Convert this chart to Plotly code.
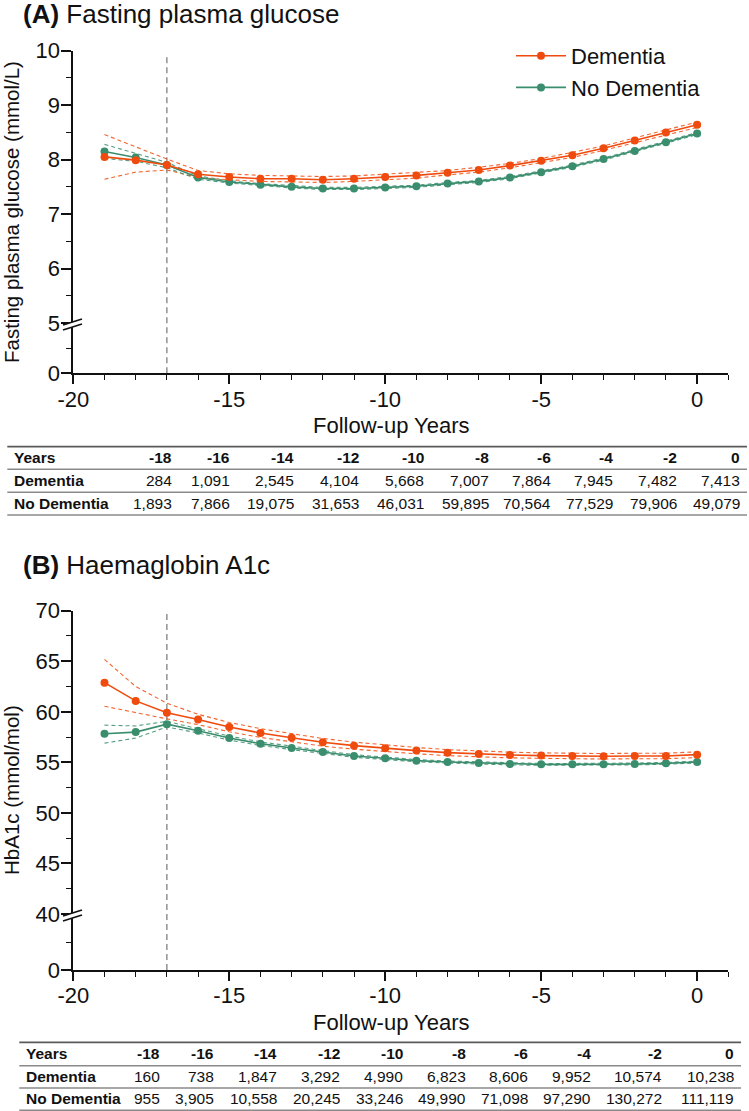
import plotly.graph_objects as go

# ---------------- data ----------------
years = [-19, -18, -17, -16, -15, -14, -13, -12, -11, -10, -9, -8, -7, -6, -5, -4, -3, -2, -1, 0]

# Panel A: fasting plasma glucose (mmol/L)
fpg_dem = [8.05, 7.99, 7.90, 7.73, 7.68, 7.65, 7.65, 7.63, 7.65, 7.68, 7.71, 7.76, 7.81, 7.89, 7.98, 8.08, 8.21, 8.35, 8.50, 8.64]
fpg_dem_hi = [8.46, 8.23, 8.01, 7.80, 7.74, 7.71, 7.70, 7.69, 7.70, 7.73, 7.76, 7.80, 7.86, 7.93, 8.02, 8.13, 8.25, 8.40, 8.55, 8.69]
fpg_dem_lo = [7.64, 7.77, 7.81, 7.67, 7.63, 7.60, 7.59, 7.58, 7.60, 7.63, 7.66, 7.72, 7.77, 7.85, 7.94, 8.04, 8.17, 8.31, 8.45, 8.59]
fpg_nod = [8.15, 8.04, 7.90, 7.67, 7.59, 7.54, 7.50, 7.47, 7.47, 7.49, 7.51, 7.56, 7.60, 7.67, 7.77, 7.88, 8.01, 8.16, 8.32, 8.48]
fpg_nod_hi = [8.28, 8.12, 7.95, 7.70, 7.61, 7.56, 7.52, 7.49, 7.49, 7.51, 7.53, 7.58, 7.62, 7.69, 7.79, 7.90, 8.03, 8.18, 8.34, 8.50]
fpg_nod_lo = [8.02, 7.97, 7.85, 7.64, 7.57, 7.52, 7.48, 7.45, 7.45, 7.47, 7.49, 7.54, 7.58, 7.65, 7.75, 7.86, 7.99, 8.14, 8.30, 8.46]

# Panel B: HbA1c (mmol/mol)
hba_dem = [62.88, 61.08, 59.90, 59.24, 58.49, 57.90, 57.44, 56.98, 56.65, 56.39, 56.16, 55.96, 55.83, 55.73, 55.67, 55.63, 55.60, 55.63, 55.63, 55.76]
hba_dem_hi = [65.18, 62.50, 60.85, 59.75, 58.95, 58.33, 57.84, 57.36, 57.00, 56.72, 56.47, 56.26, 56.12, 56.01, 55.94, 55.90, 55.87, 55.90, 55.90, 56.04]
hba_dem_lo = [60.55, 59.90, 59.30, 58.73, 58.03, 57.47, 57.04, 56.60, 56.30, 56.06, 55.85, 55.66, 55.54, 55.45, 55.40, 55.36, 55.33, 55.36, 55.36, 55.48]
hba_nod = [57.83, 57.99, 58.78, 58.13, 57.40, 56.85, 56.42, 56.03, 55.63, 55.40, 55.17, 55.03, 54.93, 54.84, 54.80, 54.80, 54.80, 54.84, 54.90, 55.03]
hba_nod_hi = [58.68, 58.60, 59.05, 58.35, 57.60, 57.03, 56.58, 56.17, 55.76, 55.52, 55.28, 55.13, 55.03, 54.93, 54.89, 54.89, 54.89, 54.93, 54.99, 55.12]
hba_nod_lo = [56.90, 57.40, 58.50, 57.91, 57.20, 56.67, 56.26, 55.89, 55.50, 55.28, 55.06, 54.93, 54.83, 54.75, 54.71, 54.71, 54.71, 54.75, 54.81, 54.94]

# Tables (numbers at risk)
table_years = ["-18", "-16", "-14", "-12", "-10", "-8", "-6", "-4", "-2", "0"]
fpg_n_dem = ["284", "1,091", "2,545", "4,104", "5,668", "7,007", "7,864", "7,945", "7,482", "7,413"]
fpg_n_nod = ["1,893", "7,866", "19,075", "31,653", "46,031", "59,895", "70,564", "77,529", "79,906", "49,079"]
hba_n_dem = ["160", "738", "1,847", "3,292", "4,990", "6,823", "8,606", "9,952", "10,574", "10,238"]
hba_n_nod = ["955", "3,905", "10,558", "20,245", "33,246", "49,990", "71,098", "97,290", "130,272", "111,119"]
row_labels = ["Years", "Dementia", "No Dementia"]

# ---------------- styling ----------------
W, H = 749, 1111
ORANGE = "#F04B0E"
GREEN = "#3A8E6E"
FONT = "Liberation Sans, Arial, Helvetica, sans-serif"
INK = "#111111"


def py(p):
    return 1 - p / H


def px(p):
    return p / W


fig = go.Figure()


def add_panel(xa, ya, ya_stub, dem, dem_hi, dem_lo, nod, nod_hi, nod_lo):
    for series, col in ((dem_hi, ORANGE), (dem_lo, ORANGE), (nod_hi, GREEN), (nod_lo, GREEN)):
        fig.add_trace(go.Scatter(x=years, y=series, mode="lines", xaxis=xa, yaxis=ya,
                                 line=dict(color=col, width=1.1, dash="4px,3px"),
                                 opacity=0.85, showlegend=False, hoverinfo="skip"))
    fig.add_trace(go.Scatter(x=years, y=nod, mode="lines+markers", name="No Dementia",
                             xaxis=xa, yaxis=ya, line=dict(color=GREEN, width=1.6),
                             marker=dict(color=GREEN, size=8), showlegend=False))
    fig.add_trace(go.Scatter(x=years, y=dem, mode="lines+markers", name="Dementia",
                             xaxis=xa, yaxis=ya, line=dict(color=ORANGE, width=1.6),
                             marker=dict(color=ORANGE, size=8), showlegend=False))
    # empty trace so that the lower (broken) axis segment is created
    fig.add_trace(go.Scatter(x=[None], y=[None], xaxis=xa, yaxis=ya_stub, mode="lines",
                             showlegend=False, hoverinfo="skip"))


add_panel("x", "y", "y2", fpg_dem, fpg_dem_hi, fpg_dem_lo, fpg_nod, fpg_nod_hi, fpg_nod_lo)
add_panel("x3", "y3", "y4", hba_dem, hba_dem_hi, hba_dem_lo, hba_nod, hba_nod_hi, hba_nod_lo)

# legend entries (panel A)
fig.add_trace(go.Scatter(x=[None], y=[None], mode="lines+markers", name="Dementia",
                         line=dict(color=ORANGE, width=1.6), marker=dict(color=ORANGE, size=8),
                         xaxis="x", yaxis="y", showlegend=True))
fig.add_trace(go.Scatter(x=[None], y=[None], mode="lines+markers", name="No Dementia",
                         line=dict(color=GREEN, width=1.6), marker=dict(color=GREEN, size=8),
                         xaxis="x", yaxis="y", showlegend=True))

axis_common = dict(showline=True, linecolor=INK, linewidth=1.8, ticks="outside",
                   tickcolor=INK, tickwidth=1.6, showgrid=False, zeroline=False,
                   tickfont=dict(family=FONT, size=22, color=INK), automargin=False)

xdom = [px(73.3), px(728.3)]
xaxis_cfg = dict(axis_common, range=[-20, 1], domain=xdom, tickvals=[-20, -15, -10, -5, 0],
                 ticktext=["-20", "-15", "-10", "-5", "0"], ticklen=9, ticklabelstandoff=-4,
                 minor=dict(dtick=1, tick0=-20, ticks="outside", ticklen=5, tickcolor=INK, tickwidth=1.4))


def yaxis_main(rng, vals, minor_dtick, dom):
    return dict(axis_common, range=rng, domain=dom, tickvals=vals, ticklen=10,
                ticklabelstandoff=-3,
                minor=dict(dtick=minor_dtick, tick0=rng[0], ticks="outside", ticklen=5,
                           tickcolor=INK, tickwidth=1.4))


def yaxis_stub(rng, mid, dom):
    return dict(axis_common, range=rng, domain=dom, tickvals=[0], ticklen=10,
                ticklabelstandoff=-3,
                minor=dict(tickmode="array", tickvals=[mid], ticks="outside", ticklen=5,
                           tickcolor=INK, tickwidth=1.4))


fig.update_layout(
    width=W, height=H, margin=dict(l=0, r=0, t=0, b=0),
    paper_bgcolor="white", plot_bgcolor="rgba(0,0,0,0)",
    xaxis=dict(xaxis_cfg, anchor="y2"),
    yaxis=dict(yaxis_main([5, 10], [5, 6, 7, 8, 9, 10], 0.5, [py(323), py(50.7)]), anchor="x"),
    yaxis2=dict(yaxis_stub([0, 5], 2.5, [py(373.3), py(323)]), anchor="x"),
    xaxis3=dict(xaxis_cfg, anchor="y4"),
    yaxis3=dict(yaxis_main([40, 70], [40, 45, 50, 55, 60, 65, 70], 2.5, [py(914), py(610.7)]), anchor="x3"),
    yaxis4=dict(yaxis_stub([0, 40], 20, [py(970), py(914)]), anchor="x3"),
    legend=dict(x=px(511), y=py(35), xanchor="left", yanchor="top", bgcolor="rgba(0,0,0,0)",
                font=dict(family=FONT, size=22, color=INK), itemwidth=50, tracegroupgap=0),
    showlegend=True,
)

shapes = []
ann = []

# vertical reference lines at year -17
for xr, ytop, ybot in (("x", 56.7, 373.3), ("x3", 610.7, 970)):
    shapes.append(dict(type="line", xref=xr, yref="paper", x0=-17, x1=-17, y0=py(ybot), y1=py(ytop),
                       line=dict(color="#808080", width=1.3, dash="6px,4px"), layer="below"))

# axis-break marks
for by in (323, 914):
    shapes.append(dict(type="path", xref="paper", yref="paper", layer="above",
                       path=f"M {px(63)} {py(by+2)} L {px(82)} {py(by-4)} L {px(82)} {py(by+1)} L {px(63)} {py(by+7)} Z",
                       fillcolor="white", line=dict(width=0)))
    for off in (0, 5):
        shapes.append(dict(type="line", xref="paper", yref="paper", layer="above",
                           x0=px(63), y0=py(by + 2 + off), x1=px(82), y1=py(by - 4 + off),
                           line=dict(color=INK, width=1.6)))

# titles
ann.append(dict(text="<b>(A)</b> Fasting plasma glucose", x=px(21), y=py(14), xref="paper", yref="paper",
                xanchor="left", yanchor="middle", showarrow=False, font=dict(family=FONT, size=26, color=INK)))
ann.append(dict(text="<b>(B)</b> Haemaglobin A1c", x=px(21), y=py(565), xref="paper", yref="paper",
                xanchor="left", yanchor="middle", showarrow=False, font=dict(family=FONT, size=26, color=INK)))
# axis titles
for txt, yc in (("Fasting plasma glucose (mmol/L)", 212), ("HbA1c (mmol/mol)", 790)):
    ann.append(dict(text=txt, x=px(11), y=py(yc), xref="paper", yref="paper", textangle=-90,
                    xanchor="center", yanchor="middle", showarrow=False,
                    font=dict(family=FONT, size=20.5, color=INK)))
for yc in (425, 1022):
    ann.append(dict(text="Follow-up Years", x=px(391), y=py(yc), xref="paper", yref="paper",
                    xanchor="center", yanchor="middle", showarrow=False,
                    font=dict(family=FONT, size=22, color=INK)))


# tables
def add_table(lines_y, rows_y, x_left, x_right, label_x, col_right, rows):
    for i, ly in enumerate(lines_y):
        top = i == 0
        shapes.append(dict(type="line", xref="paper", yref="paper", x0=px(x_left), x1=px(x_right),
                           y0=py(ly), y1=py(ly),
                           line=dict(color="#5a5a5a" if top else "#8a8a8a", width=1.8 if top else 1.4)))
    for r, (lab, vals) in enumerate(zip(row_labels, rows)):
        ann.append(dict(text=f"<b>{lab}</b>", x=px(label_x), y=py(rows_y[r]), xref="paper", yref="paper",
                        xanchor="left", yanchor="middle", showarrow=False,
                        font=dict(family=FONT, size=15.5, color=INK)))
        for cx, v in zip(col_right, vals):
            t = f"<b>{v}</b>" if r == 0 else v
            ann.append(dict(text=t, x=px(cx), y=py(rows_y[r]), xref="paper", yref="paper",
                            xanchor="right", yanchor="middle", showarrow=False,
                            font=dict(family=FONT, size=15.5, color=INK)))


add_table([446.7, 469.3, 492.3, 515], [457.8, 480.5, 503.2], 7.3, 747, 12.3,
          [174, 232, 296, 360.5, 426, 490.5, 552.5, 615, 679, 742.3],
          [table_years, fpg_n_dem, fpg_n_nod])
add_table([1042.3, 1065.7, 1088, 1110.3], [1053.5, 1076.2, 1098], 19.3, 741, 24,
          [162.3, 215.7, 278.5, 342, 405, 467.5, 530, 593.3, 664.3, 735.7],
          [table_years, hba_n_dem, hba_n_nod])

fig.update_layout(shapes=shapes, annotations=ann)
fig.write_html("out.html", config={"displayModeBar": False},
               post_script="document.body.style.margin='0';document.body.style.padding='0';")
